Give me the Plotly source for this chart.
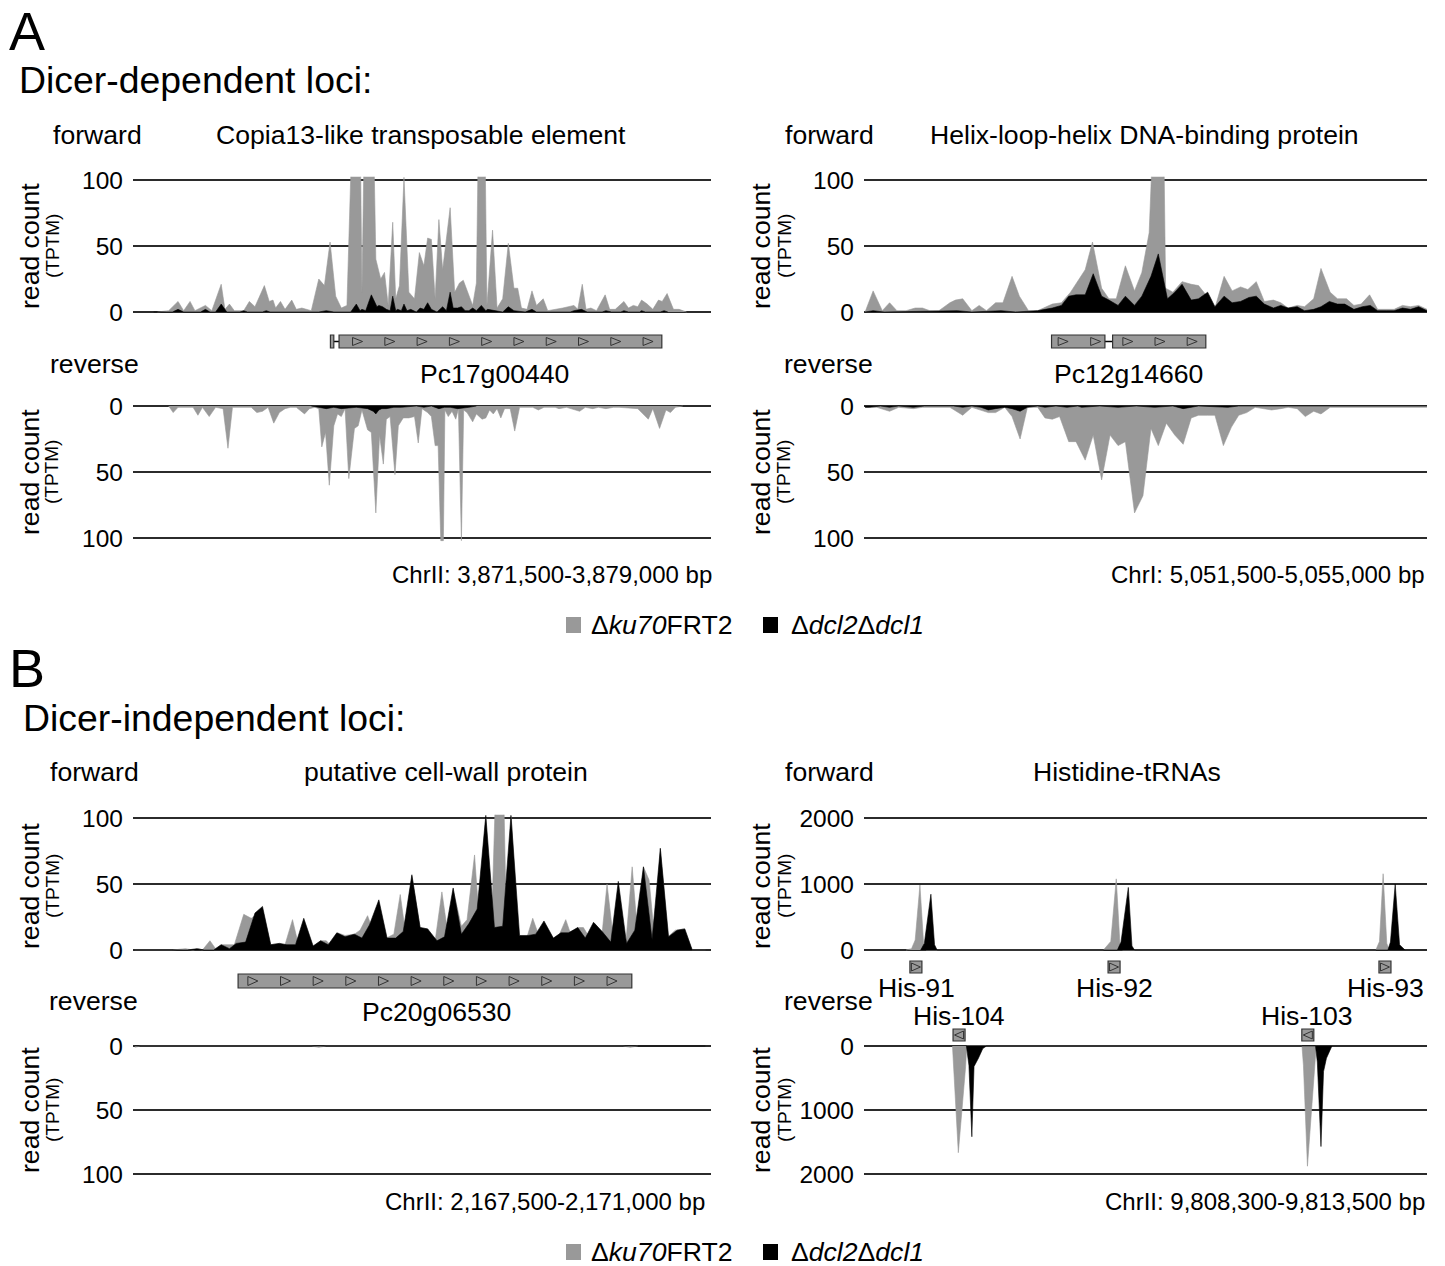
import plotly.graph_objects as go

W, H = 1445, 1266
FONT = "Liberation Sans, Arial, sans-serif"
GREY = "#999999"
BLACK = "#000000"
GRID = "#2b2b2b"
EDGE = "#333333"

# ---------------- data (positions in track units: 5 = window start, 1545 = window end)
WIN_A_LEFT = (3871500, 3879000)
WIN_A_RIGHT = (5051500, 5055000)
WIN_B_LEFT = (2167500, 2171000)
WIN_B_RIGHT = (9808300, 9813500)

CHR_LABELS = ["ChrII: 3,871,500-3,879,000 bp", "ChrI: 5,051,500-5,055,000 bp",
              "ChrII: 2,167,500-2,171,000 bp", "ChrII: 9,808,300-9,813,500 bp"]

A_L_FWD_KU70 = [(70,0),(100,1),(125,8),(140,1),(157,8),(170,1),(198,5),(215,1),(240,21),(250,2),(262,6),(275,1),(300,1),(315,8),(330,4),(355,20),(368,8),(378,9),(385,3),(398,8),(410,2),(428,9),(440,2),(455,3),(480,1),(500,25),(515,20),(530,53),(545,12),(560,3),(575,5),(590,150),(610,150),(615,15),(622,150),(645,150),(652,40),(665,25),(675,30),(685,5),(697,68),(705,10),(715,20),(727,102),(740,15),(755,10),(768,45),(780,35),(790,56),(800,55),(810,10),(820,70),(830,32),(850,79),(862,15),(875,22),(885,24),(900,12),(910,5),(920,22),(926,150),(942,150),(948,5),(963,62),(975,3),(990,10),(1005,52),(1020,18),(1030,18),(1040,3),(1055,2),(1068,16),(1080,5),(1098,10),(1110,1),(1150,3),(1180,5),(1190,2),(1202,21),(1212,2),(1225,3),(1240,1),(1263,13),(1275,2),(1290,2),(1313,8),(1325,3),(1338,5),(1350,4),(1360,9),(1375,6),(1390,2),(1405,9),(1415,8),(1428,14),(1445,2),(1460,2),(1480,0)]
A_L_FWD_DCL = [(60,0),(110,0),(125,2),(140,0),(185,0),(198,2),(210,0),(225,0),(240,6),(255,0),(290,0),(300,1),(310,0),(350,0),(360,1),(370,0),(500,0),(520,1),(540,0),(585,0),(600,6),(610,1),(615,2),(625,1),(640,13),(655,4),(660,5),(670,4),(680,2),(690,1),(697,12),(705,1),(710,2),(720,1),(727,6),(735,1),(745,2),(760,0),(770,3),(780,2),(790,7),(800,2),(815,0),(830,4),(840,1),(850,15),(858,3),(870,3),(880,4),(890,1),(900,1),(910,3),(920,1),(933,5),(945,1),(950,2),(990,0),(1005,4),(1020,1),(1050,0),(1068,2),(1080,0),(1170,0),(1180,1),(1200,2),(1215,0),(1255,0),(1265,1),(1280,0),(1305,0),(1313,1),(1325,0),(1355,0),(1360,1),(1370,0),(1410,0),(1420,1),(1430,0)]
A_L_REV_KU70 = [(100,0),(112,5),(125,1),(165,1),(178,7),(190,1),(208,8),(225,1),(245,2),(258,32),(270,1),(320,1),(335,5),(350,4),(365,1),(380,13),(395,5),(410,2),(425,1),(440,1),(462,6),(475,2),(490,1),(500,2),(508,31),(518,20),(528,60),(540,15),(550,6),(560,8),(570,2),(580,55),(595,17),(605,15),(615,3),(630,18),(640,20),(652,81),(662,22),(672,44),(680,10),(690,8),(703,52),(712,15),(725,9),(740,9),(755,8),(765,28),(775,2),(790,5),(800,8),(810,30),(818,30),(825,102),(832,102),(836,3),(845,8),(855,4),(865,10),(872,2),(880,102),(886,3),(895,5),(910,12),(920,6),(935,10),(945,9),(955,3),(965,6),(975,2),(985,9),(995,2),(1010,2),(1022,19),(1035,1),(1070,1),(1085,3),(1100,1),(1130,1),(1140,2),(1160,1),(1195,4),(1210,1),(1230,2),(1245,1),(1265,2),(1285,1),(1300,1),(1350,2),(1378,10),(1390,2),(1408,17),(1425,3),(1437,5),(1450,1),(1470,0)]
A_L_REV_DCL = [(480,0),(500,1),(520,2),(540,1),(560,2),(600,1),(630,2),(645,4),(652,6),(660,3),(668,2),(680,2),(700,1),(720,1),(760,0),(780,1),(800,0),(820,2),(835,1),(850,1),(870,2),(900,1),(920,0)]

A_R_FWD_KU70 = [(8,0),(30,16),(55,1),(75,7),(95,1),(120,1),(145,3),(165,3),(185,1),(210,1),(240,7),(255,9),(275,10),(300,1),(320,5),(340,1),(365,7),(385,7),(410,27),(430,12),(455,1),(480,1),(520,6),(545,7),(570,15),(590,24),(610,32),(630,53),(655,18),(675,10),(695,10),(720,35),(745,16),(765,30),(785,60),(795,130),(825,130),(830,18),(850,15),(875,23),(900,21),(920,20),(940,13),(965,3),(990,27),(1012,16),(1035,19),(1055,17),(1078,23),(1100,8),(1125,9),(1145,7),(1165,3),(1190,5),(1210,4),(1235,10),(1255,33),(1280,15),(1300,10),(1325,10),(1345,5),(1365,6),(1388,13),(1410,2),(1435,2),(1455,2),(1478,5),(1500,4),(1522,5),(1545,2)]
A_R_FWD_DCL = [(8,0),(30,1),(60,0),(240,1),(260,1),(300,0),(380,1),(420,0),(480,1),(500,2),(520,3),(545,5),(565,12),(585,13),(610,13),(632,29),(655,12),(675,9),(700,5),(720,12),(745,5),(765,12),(790,27),(810,44),(835,10),(855,15),(875,21),(900,9),(920,10),(945,15),(965,4),(990,12),(1012,7),(1035,8),(1058,11),(1078,12),(1100,6),(1125,3),(1145,5),(1165,3),(1190,4),(1210,1),(1235,2),(1255,4),(1278,8),(1300,6),(1320,6),(1345,2),(1368,4),(1390,5),(1410,1),(1435,1),(1455,1),(1478,3),(1500,2),(1522,4),(1545,1)]
A_R_REV_KU70 = [(8,1),(40,1),(75,4),(100,1),(140,2),(165,1),(240,1),(275,7),(300,1),(325,3),(345,5),(365,5),(390,1),(410,8),(432,25),(452,1),(480,1),(500,9),(520,10),(540,8),(565,27),(585,27),(610,41),(632,22),(655,56),(678,22),(700,30),(720,27),(745,81),(768,68),(790,17),(810,30),(832,13),(855,22),(878,29),(900,9),(920,7),(945,7),(965,7),(988,30),(1010,16),(1030,7),(1052,5),(1075,1),(1100,2),(1120,3),(1145,2),(1165,1),(1190,2),(1212,8),(1235,4),(1255,6),(1280,1),(1320,1),(1390,1),(1435,1),(1545,1)]
A_R_REV_DCL = [(8,1),(20,1),(50,0),(75,1),(100,0),(140,1),(170,0),(250,0),(275,1),(300,0),(325,1),(345,3),(365,2),(390,1),(410,2),(432,4),(452,1),(480,0),(500,1),(530,0),(560,1),(590,0),(600,1),(650,0),(700,1),(750,0),(800,1),(850,0),(878,2),(900,1),(920,0),(1000,1),(1030,0),(1545,0)]

B_L_FWD_KU70 = [(10,0),(110,0),(145,1),(165,0),(180,1),(190,0),(210,7),(225,1),(240,4),(258,4),(275,4),(300,27),(320,24),(335,27),(350,31),(372,4),(395,5),(410,4),(430,23),(445,5),(460,4),(485,3),(505,7),(520,7),(530,4),(550,13),(570,11),(595,12),(610,15),(630,26),(650,10),(680,9),(700,12),(717,42),(730,15),(748,56),(770,17),(790,16),(810,7),(828,44),(845,10),(858,46),(880,18),(895,23),(915,72),(925,32),(945,100),(960,16),(972,130),(992,130),(1000,18),(1013,101),(1030,10),(1055,10),(1070,24),(1085,12),(1100,17),(1120,8),(1140,11),(1158,23),(1170,13),(1190,17),(1205,17),(1220,10),(1235,20),(1255,13),(1268,50),(1285,8),(1300,20),(1318,5),(1335,63),(1350,10),(1365,63),(1380,53),(1395,8),(1410,77),(1430,10),(1450,15),(1475,16),(1495,0),(1530,0)]
B_L_FWD_DCL = [(10,0),(150,0),(175,1),(195,0),(220,0),(240,4),(262,1),(280,5),(305,6),(330,28),(350,33),(372,4),(395,5),(415,4),(438,4),(460,24),(485,3),(505,7),(525,4),(548,13),(570,10),(595,12),(615,9),(635,19),(660,38),(682,9),(705,9),(725,14),(748,57),(770,17),(790,16),(815,7),(835,10),(858,47),(880,12),(900,20),(922,31),(945,102),(968,17),(990,18),(1012,102),(1035,11),(1058,11),(1078,12),(1100,22),(1125,9),(1145,13),(1165,13),(1190,17),(1210,9),(1232,21),(1255,14),(1278,6),(1298,52),(1320,5),(1342,15),(1365,63),(1388,8),(1410,77),(1432,10),(1455,15),(1475,16),(1495,0),(1530,0)]
B_L_REV_KU70 = [(10,1),(25,0),(480,0),(500,1),(520,0),(1310,0),(1330,1),(1350,0)]
B_L_REV_DCL = [(10,0),(1530,0)]

B_R_FWD_KU70 = [(120,0),(135,20),(145,150),(158,985),(168,100),(175,0),(660,0),(680,130),(695,1078),(705,100),(712,0),(1405,0),(1415,130),(1425,1155),(1435,100),(1442,0)]
B_R_FWD_DCL = [(160,0),(170,100),(188,845),(198,80),(205,0),(698,0),(708,120),(728,948),(738,60),(745,0),(1438,0),(1445,120),(1458,1000),(1470,80),(1485,0)]
B_R_REV_KU70 = [(247,0),(250,300),(263,1667),(283,320),(286,0),(1203,0),(1207,300),(1218,1878),(1238,210),(1242,0)]
B_R_REV_DCL = [(285,0),(292,300),(300,1418),(306,320),(318,190),(330,40),(340,0),(1240,0),(1245,250),(1255,1571),(1262,400),(1270,190),(1285,0)]

TICKS_TPTM = [0, 50, 100]
TICKS_HIS = [0, 1000, 2000]

# gene models (track units)
GENE_A_L = dict(exons=[(531, 540), (554, 1414)], introns=[(540, 554)], arrows=[590, 676, 762, 848, 934, 1020, 1106, 1192, 1278, 1364], name="Pc17g00440")
GENE_A_R = dict(exons=[(518, 664), (685, 940)], introns=[(664, 685)], arrows=[536, 625, 713, 801, 889], name="Pc12g14660")
GENE_B_L = dict(exons=[(285, 1334)], introns=[], arrows=[311, 398, 485, 572, 659, 746, 833, 920, 1007, 1094, 1181, 1268], name="Pc20g06530")
TRNA_FWD = [("His-91", 147), ("His-92", 689), ("His-93", 1430)]
TRNA_REV = [("His-104", 265), ("His-103", 1219)]

TITLES = ["Copia13-like transposable element", "Helix-loop-helix DNA-binding protein",
          "putative cell-wall protein", "Histidine-tRNAs"]

# ---------------- geometry helpers
def px_x(px):
    return px / W

def px_y(py):
    return 1 - py / H

def unzip(pairs):
    return [p[0] for p in pairs], [p[1] for p in pairs]

XL = (133, 711)
XR = (864, 1427)

panels = [
    (XL, 312, 180, 100, False, WIN_A_LEFT, A_L_FWD_KU70, A_L_FWD_DCL, TICKS_TPTM),
    (XL, 406, 538, 100, True, WIN_A_LEFT, A_L_REV_KU70, A_L_REV_DCL, TICKS_TPTM),
    (XR, 312, 180, 100, False, WIN_A_RIGHT, A_R_FWD_KU70, A_R_FWD_DCL, TICKS_TPTM),
    (XR, 406, 538, 100, True, WIN_A_RIGHT, A_R_REV_KU70, A_R_REV_DCL, TICKS_TPTM),
    (XL, 950, 818, 100, False, WIN_B_LEFT, B_L_FWD_KU70, B_L_FWD_DCL, TICKS_TPTM),
    (XL, 1046, 1174, 100, True, WIN_B_LEFT, B_L_REV_KU70, B_L_REV_DCL, TICKS_TPTM),
    (XR, 950, 818, 2000, False, WIN_B_RIGHT, B_R_FWD_KU70, B_R_FWD_DCL, TICKS_HIS),
    (XR, 1046, 1174, 2000, True, WIN_B_RIGHT, B_R_REV_KU70, B_R_REV_DCL, TICKS_HIS),
]

def to_bp(u, win):
    return win[0] + (u - 5) / 1540 * (win[1] - win[0])

fig = go.Figure()
layout = {}
for i, (xs, p0, p1, vmax, rev, win, grey, black, ticks) in enumerate(panels, start=1):
    sfx = "" if i == 1 else str(i)
    lo, hi = -0.012 * vmax, (1.03 if rev else 1.025) * vmax
    def pxv(v):
        return p0 + v / vmax * (p1 - p0)
    d = sorted([px_y(pxv(lo)), px_y(pxv(hi))])
    layout["xaxis" + sfx] = dict(domain=[px_x(xs[0]), px_x(xs[1])], range=list(win),
                                 visible=False, anchor="y" + sfx, fixedrange=True, automargin=False)
    layout["yaxis" + sfx] = dict(domain=d, range=[hi, lo] if rev else [lo, hi],
                                 anchor="x" + sfx, tickvals=ticks, ticktext=[str(t) for t in ticks],
                                 showgrid=True, gridcolor=GRID, gridwidth=1.7, zeroline=False,
                                 showline=False, ticks="", ticklabelstandoff=9, automargin=False,
                                 fixedrange=True,
                                 tickfont=dict(family=FONT, size=24.5, color="black"))
    for series, col in ((grey, GREY), (black, BLACK)):
        x, y = unzip(series)
        fig.add_trace(go.Scatter(x=[to_bp(u, win) for u in x], y=y, mode="lines",
                                 fill="tozeroy", fillcolor=col, line=dict(color=col, width=0.6),
                                 xaxis="x" + sfx, yaxis="y" + sfx, showlegend=False,
                                 hoverinfo="skip"))

shapes = []
annotations = []

def text(s, x, y, size=26.6, anchor="center", angle=0, **kw):
    annotations.append(dict(text=s, x=px_x(x), y=px_y(y), xref="paper", yref="paper",
                            showarrow=False, xanchor=anchor, yanchor="middle", textangle=angle,
                            font=dict(family=FONT, size=size, color="black"), **kw))

def gene(g, xref, win, y0, y1, axis_px):
    ym = (y0 + y1) / 2
    for a, b in g["introns"]:
        shapes.append(dict(type="line", xref=xref, yref="paper", x0=to_bp(a, win), x1=to_bp(b, win),
                           y0=px_y(ym), y1=px_y(ym), line=dict(color="black", width=1.5)))
    for a, b in g["exons"]:
        shapes.append(dict(type="rect", xref=xref, yref="paper", x0=to_bp(a, win), x1=to_bp(b, win),
                           y0=px_y(y1), y1=px_y(y0), fillcolor=GREY, line=dict(color=EDGE, width=1.2)))
    tw = 10 * 1540 / axis_px
    for u in g["arrows"]:
        xa, xb = to_bp(u, win), to_bp(u + tw, win)
        ya, yb, yc = px_y(y0 + 2.5), px_y(y1 - 2.5), px_y(ym)
        shapes.append(dict(type="path", xref=xref, yref="paper",
                           path=f"M {xa},{ya} L {xb},{yc} L {xa},{yb} Z",
                           line=dict(color=EDGE, width=1)))

def trna(u, xref, win, y0, y1, axis_px, left=False):
    half = 6 * 1540 / axis_px
    xa, xb = to_bp(u - half, win), to_bp(u + half, win)
    shapes.append(dict(type="rect", xref=xref, yref="paper", x0=xa, x1=xb,
                       y0=px_y(y1), y1=px_y(y0), fillcolor=GREY, line=dict(color=EDGE, width=1.2)))
    ta, tb = to_bp(u - half * 0.75, win), to_bp(u + half * 0.75, win)
    ya, yb, yc = px_y(y0 + 2), px_y(y1 - 2), px_y((y0 + y1) / 2)
    if left:
        p = f"M {tb},{ya} L {ta},{yc} L {tb},{yb} Z"
    else:
        p = f"M {ta},{ya} L {tb},{yc} L {ta},{yb} Z"
    shapes.append(dict(type="path", xref=xref, yref="paper", path=p, line=dict(color=EDGE, width=1)))

gene(GENE_A_L, "x", WIN_A_LEFT, 335, 348, XL[1] - XL[0])
gene(GENE_A_R, "x3", WIN_A_RIGHT, 335, 348, XR[1] - XR[0])
gene(GENE_B_L, "x5", WIN_B_LEFT, 974, 988, XL[1] - XL[0])
for name, u in TRNA_FWD:
    trna(u, "x7", WIN_B_RIGHT, 961, 973, XR[1] - XR[0])
for name, u in TRNA_REV:
    trna(u, "x7", WIN_B_RIGHT, 1029, 1041, XR[1] - XR[0], left=True)

text("A", 7, 31, size=54, anchor="left")
text("Dicer-dependent loci:", 17, 80, size=37.4, anchor="left")
text("B", 7, 668, size=54, anchor="left")
text("Dicer-independent loci:", 21, 718, size=37.4, anchor="left")

for (fx, rx, fy, ry) in ((97, 95, 135, 364), (829, 828, 135, 364),
                         (95, 93, 772, 1001), (829, 828, 772, 1001)):
    text("forward", fx, fy)
    text("reverse", rx, ry)
for t, (x, y) in zip(TITLES, ((421, 135), (1144, 135), (446, 772), (1127, 772))):
    text(t, x, y)

text(GENE_A_L["name"], 495, 374)
text(GENE_A_R["name"], 1128, 374)
text(GENE_B_L["name"], 436, 1012)
for (name, u), x in zip(TRNA_FWD, (917, 1114, 1385)):
    text(name, x, 988)
for (name, u), x in zip(TRNA_REV, (959, 1307)):
    text(name, x, 1016)

for s, (x, y) in zip(CHR_LABELS, ((714, 574), (1427, 574), (707, 1201), (1427, 1201))):
    text(s, x, y, size=24, anchor="right")

for xc, xt in ((30, 52), (761, 784)):
    for yc in (246, 472, 886, 1110):
        text("read count", xc, yc, size=26.6, angle=-90)
        text("(TPTM)", xt, yc, size=19, angle=-90)

for ly in (625, 1252):
    shapes.append(dict(type="rect", xref="paper", yref="paper", x0=px_x(566), x1=px_x(581),
                       y0=px_y(ly + 8), y1=px_y(ly - 8), fillcolor=GREY, line=dict(width=0)))
    shapes.append(dict(type="rect", xref="paper", yref="paper", x0=px_x(763), x1=px_x(778),
                       y0=px_y(ly + 8), y1=px_y(ly - 8), fillcolor=BLACK, line=dict(width=0)))
    text("Δ<i>ku70</i>FRT2", 589, ly, size=26.6, anchor="left")
    text("Δ<i>dcl2</i>Δ<i>dcl1</i>", 789, ly, size=26.6, anchor="left")

fig.update_layout(width=W, height=H, margin=dict(l=0, r=0, t=0, b=0, pad=0),
                  autosize=False, template="none",
                  paper_bgcolor="white", plot_bgcolor="white", showlegend=False,
                  shapes=shapes, annotations=annotations, **layout)
fig.write_html("out.html", config={"displayModeBar": False},
               post_script="document.body.style.margin='0';")
